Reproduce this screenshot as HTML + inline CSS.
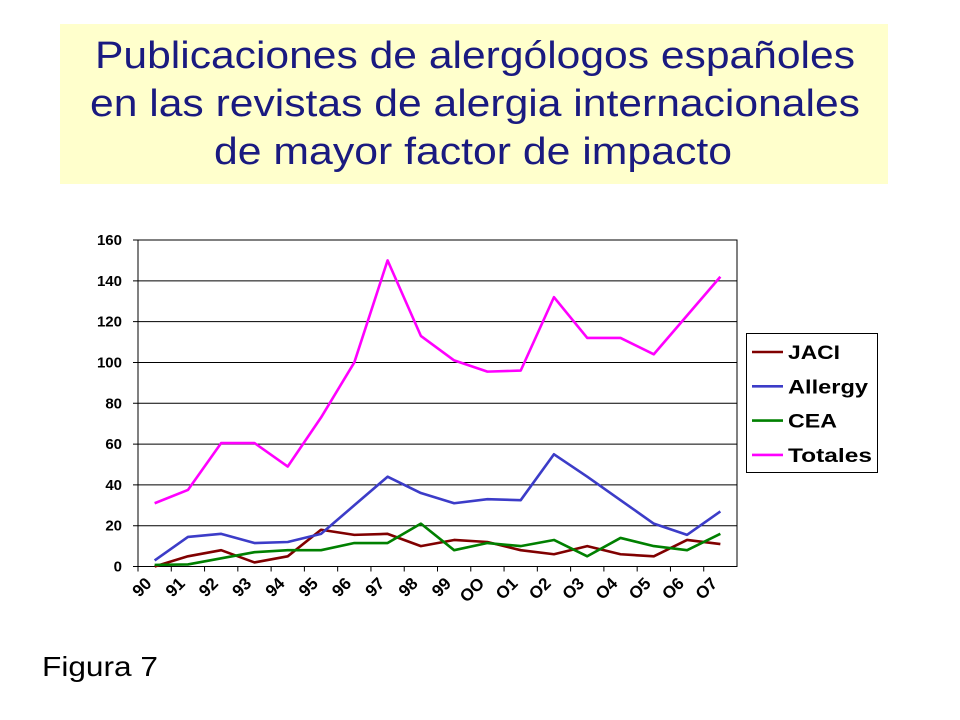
<!DOCTYPE html>
<html><head><meta charset="utf-8"><style>
body{margin:0;background:#fff;width:960px;height:720px;overflow:hidden;font-family:"Liberation Sans",sans-serif}
</style></head><body>
<svg id="chart" width="960" height="720" style="position:absolute;left:0;top:0;font-family:'Liberation Sans',sans-serif">
<g>
<rect x="60" y="24" width="828" height="160" fill="#ffffcc"/>
<text x="475" y="68" text-anchor="middle" font-size="38" fill="#1a1a80" textLength="760" lengthAdjust="spacingAndGlyphs">Publicaciones de alergólogos españoles</text>
<text x="475" y="116" text-anchor="middle" font-size="38" fill="#1a1a80" textLength="770" lengthAdjust="spacingAndGlyphs">en las revistas de alergia internacionales</text>
<text x="473" y="164" text-anchor="middle" font-size="38" fill="#1a1a80" textLength="518" lengthAdjust="spacingAndGlyphs">de mayor factor de impacto</text>
</g>
<text x="42" y="676" font-size="28" textLength="116" lengthAdjust="spacingAndGlyphs">Figura 7</text>
</svg>
<script>
const categories=["90","91","92","93","94","95","96","97","98","99","OO","O1","O2","O3","O4","O5","O6","O7"];
const jaci=[0,5,8,2,5,18,15.5,16,10,13,12,8,6,10,6,5,13,11];
const allergy=[3,14.5,16,11.5,12,16,30,44,36,31,33,32.5,55,44,32.5,21,15.5,27];
const cea=[0.8,1,4,7,8,8,11.5,11.5,21,8,11.5,10,13,5,14,10,8,16];
const totales=[31,37.5,60.5,60.5,49,73,100,150,113,101,95.5,96,132,112,112,104,123,142];
const yTicks=[0,20,40,60,80,100,120,140,160];
const series=[["JACI",jaci,"#800000"],["Allergy",allergy,"#3c3cc8"],["CEA",cea,"#008000"],["Totales",totales,"#ff00ff"]];
const legendLen=[52,80,49,84];
const L=138,R=737,T=240,B=566.5,YMAX=160;
const svg=document.getElementById('chart');const NS="http://www.w3.org/2000/svg";
function x(i){return L+(i+0.5)*(R-L)/categories.length}
function y(v){return B-v/YMAX*(B-T)}
function mk(t,a,p){const e=document.createElementNS(NS,t);for(const k in a)e.setAttribute(k,a[k]);(p||svg).appendChild(e);return e}
yTicks.forEach(v=>{const g=mk('line',{x1:L-5,x2:R,y1:y(v),y2:y(v),stroke:'#000','stroke-width':1});


const t=mk('text',{x:122,y:y(v)+5,'text-anchor':'end','font-size':15,'font-weight':'bold'});t.textContent=v;

});
const ax=mk('rect',{x:L,y:T,width:R-L,height:B-T,fill:'none',stroke:'#000','stroke-width':1});


categories.forEach((c,i)=>{const tx=L+i*(R-L)/categories.length;
const tk=mk('line',{x1:tx,x2:tx,y1:B,y2:B+5,stroke:'#000'});


const t=mk('text',{x:x(i)-2,y:B+18,'text-anchor':'end','font-size':17,'font-weight':'bold',transform:`rotate(-45 ${x(i)-2} ${B+18})`});t.textContent=c;

});
series.forEach(([n,d,col])=>{const p=mk('polyline',{points:d.map((v,i)=>x(i)+','+y(v)).join(' '),fill:'none',stroke:col,'stroke-width':2.6,'stroke-linejoin':'round'});

});
const lg=mk('g',{});


mk('rect',{x:746.5,y:333.5,width:131,height:139,fill:'#fff',stroke:'#000'},lg);
series.forEach(([n,d,col],k)=>{const yy=352+k*34.3;
const e=mk('g',{},lg);


mk('line',{x1:752,x2:783,y1:yy,y2:yy,stroke:col,'stroke-width':2.6},e);
const t=mk('text',{x:788,y:yy+7,'font-size':19,'font-weight':'bold',textLength:legendLen[k],lengthAdjust:'spacingAndGlyphs'},e);t.textContent=n;});
</script>
</body></html>
